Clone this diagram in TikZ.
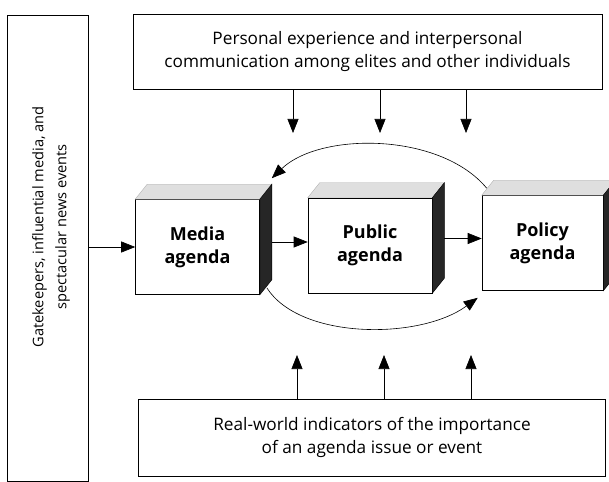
\documentclass[tikz,border=0pt]{standalone}
\usepackage{fontspec}
\setmainfont{Open Sans}
\usetikzlibrary{arrows.meta,calc}
\tikzset{
  agenda/.style={draw, line width=0.6pt, minimum width=124pt, minimum height=95pt, inner sep=0pt, align=center, font=\fontsize{18}{23}\selectfont\bfseries},
  factor/.style={draw, line width=0.6pt, inner sep=0pt, align=center, font=\fontsize{17.2}{22.5}\selectfont},
  topface/.style={fill=gray!25, draw=gray!60, line width=0.4pt},
  sideface/.style={fill=black!85, draw=black, line width=0.4pt},
  arr/.style={-{Triangle[length=14pt,width=11pt]}, line width=0.6pt}
}
\begin{document}
\begin{tikzpicture}[x=1pt,y=-1pt]
\useasboundingbox (0,0) rectangle (609,481);
% outer influences
\node[factor, minimum width=81pt, minimum height=466pt] (gate) at (47.5,248) {};
\node[rotate=90, align=center, font=\fontsize{14.6}{23}\selectfont] (gatetext) at (51,227) {Gatekeepers, influential media, and\\spectacular news events};
\node[factor, minimum width=469pt, minimum height=75pt] (personal) at (367.5,51.5) {Personal experience and interpersonal\\communication among elites and other individuals};
\node[factor, minimum width=467pt, minimum height=77pt] (real) at (372,437.5) {Real-world indicators of the importance\\of an agenda issue or event};
% the three agendas
\node[agenda] (media) at (197.5,247) {Media\\agenda};
\node[agenda] (public) at (370,245.5) {Public\\agenda};
\node[agenda, minimum width=121pt] (policy) at (542.5,243) {Policy\\agenda};
\foreach \n in {media,public,policy} {
  \filldraw[topface] (\n.north west) -- ++(12,-15) -- ($(\n.north east)+(12,-15)$) -- (\n.north east) -- cycle;
  \filldraw[sideface] (\n.north east) -- ++(12,-15) -- ($(\n.south east)+(12,-15)$) -- (\n.south east) -- cycle;
}
% arrows between agendas
\coordinate (mout) at ($(media.east)+(12,-5)$);
\coordinate (pout) at ($(public.east)+(12,-7)$);
\draw[arr] (gate.east |- media.west) -- (media.west);
\draw[arr] (mout) -- (mout -| public.west);
\draw[arr] (pout) -- (pout -| policy.west);
\coordinate (polback) at ($(policy.north west)+(5,-7)$);
\coordinate (medback) at ($(media.north east)+(12,-21)$);
\draw[arr] (polback) .. controls (440,132) and (320,132) .. (medback);
\coordinate (medlow) at ($(media.south east)+(7,-7)$);
\coordinate (pollow) at ($(policy.south west)+(-4,7)$);
\draw[arr] (medlow) .. controls (300,340) and (420,340) .. (pollow);
% arrows from the outer influences
\foreach \x [count=\i] in {293,380,466} {
  \coordinate (dn\i) at (\x,133);
  \draw[arr] (\x,0 |- personal.south) -- (dn\i);
}
\foreach \x [count=\i] in {297,384,471} {
  \coordinate (up\i) at (\x,355);
  \draw[arr] (\x,0 |- real.north) -- (up\i);
}
\end{tikzpicture}
\end{document}
